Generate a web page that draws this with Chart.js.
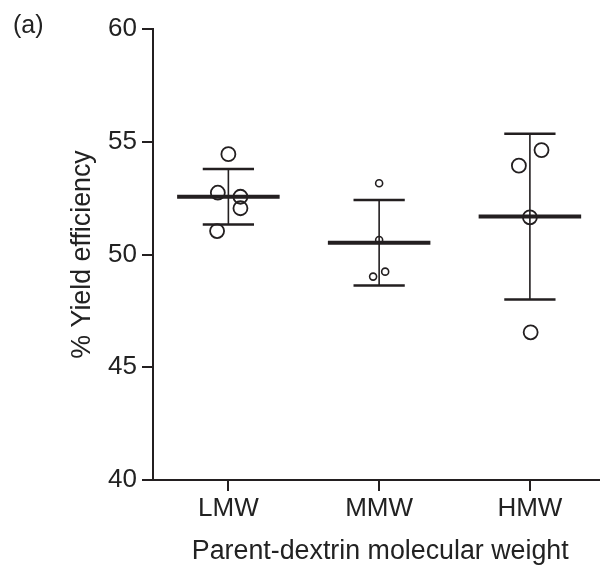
<!DOCTYPE html>
<html>
<head>
<meta charset="utf-8">
<script src="https://cdn.jsdelivr.net/npm/chart.js@4/dist/chart.umd.min.js"></script>
<style>
  html, body { margin: 0; padding: 0; background: #fff; }
  #wrap { position: relative; width: 600px; height: 567px; }
  #panel { position: absolute; left: 13px; top: 10px; font: 25px "Liberation Sans", Arial, sans-serif; color: #222; }
</style>
</head>
<body>
<div id="wrap">
  <canvas id="yieldChart" width="600" height="567"></canvas>
  <div id="panel">(a)</div>
</div>
<script>
// Categories and individual replicate values
const categories = ['LMW', 'MMW', 'HMW'];
const lmwValues = [54.45, 52.74, 52.56, 52.05, 51.04];
const mmwValues = [53.16, 50.64, 49.24, 49.02];
const hmwValues = [54.63, 53.94, 51.65, 46.55];
// horizontal scatter of the points (in category units)
const lmwJitter = [0, -0.07, 0.08, 0.08, -0.075];
const mmwJitter = [0, 0, 0.04, -0.04];
const hmwJitter = [0.077, -0.073, 0, 0.005];
// group mean and SD (error bars)
const means = [52.56, 50.52, 51.68];
const sds = [1.23, 1.90, 3.68];
const yTicks = [40, 45, 50, 55, 60];

const ink = '#231f20';
const font = '"Liberation Sans", Arial, sans-serif';
const meanHalf = 0.34;   // half width of mean line
const capHalf = 0.17;    // half width of error bar caps

function pointsFor(values, jitter, idx) {
    return values.map((v, i) => ({ x: idx + jitter[i], y: v }));
}

// build the line segments, null points break the line
const meanLine = [];
const stems = [];
const caps = [];
means.forEach((m, i) => {
    meanLine.push({ x: i - meanHalf, y: m }, { x: i + meanHalf, y: m }, { x: i, y: null });
    stems.push({ x: i, y: m - sds[i] }, { x: i, y: m + sds[i] }, { x: i, y: null });
    caps.push({ x: i - capHalf, y: m + sds[i] }, { x: i + capHalf, y: m + sds[i] }, { x: i, y: null });
    caps.push({ x: i - capHalf, y: m - sds[i] }, { x: i + capHalf, y: m - sds[i] }, { x: i, y: null });
});

function circles(data, r, w) {
    return {
        type: 'scatter',
        data: data,
        pointStyle: 'circle',
        pointRadius: r,
        pointBorderWidth: w,
        pointBorderColor: ink,
        pointBackgroundColor: 'rgba(0,0,0,0)',
        pointHoverRadius: r
    };
}

function segments(data, w) {
    return {
        type: 'scatter',
        data: data,
        showLine: true,
        spanGaps: false,
        borderColor: ink,
        borderWidth: w,
        pointRadius: 0,
        pointHoverRadius: 0
    };
}

const ctx = document.getElementById('yieldChart').getContext('2d');
new Chart(ctx, {
    type: 'scatter',
    data: {
        datasets: [
            segments(stems, 1.6),
            segments(caps, 2.5),
            segments(meanLine, 4),
            circles(pointsFor(lmwValues, lmwJitter, 0), 7, 1.8),
            circles(pointsFor(mmwValues, mmwJitter, 1), 3.5, 1.6),
            circles(pointsFor(hmwValues, hmwJitter, 2), 7, 1.8)
        ]
    },
    options: {
        responsive: false,
        animation: false,
        layout: { autoPadding: false, padding: { top: 29, right: 0, bottom: 0, left: 0 } },
        plugins: { legend: { display: false }, tooltip: { enabled: false } },
        scales: {
            x: {
                type: 'linear',
                min: -0.5,
                max: 2.465,
                afterBuildTicks: (scale) => { scale.ticks = categories.map((c, i) => ({ value: i })); },
                afterFit: (scale) => {
                    scale.height = 87;
                    scale.paddingRight = 0;
                    scale.paddingLeft = 0;
                },
                ticks: {
                    callback: (v) => categories[v] ?? '',
                    color: '#222',
                    font: { family: font, size: 26 },
                    padding: 2,
                    maxRotation: 0
                },
                grid: { drawOnChartArea: false, tickLength: 11, color: ink, lineWidth: 2 },
                border: { color: ink, width: 2 },
                title: {
                    display: true,
                    text: '\u00a0Parent-dextrin molecular weight',
                    color: '#222',
                    font: { family: font, size: 26.8 },
                    padding: { top: 0, bottom: -1 }
                }
            },
            y: {
                min: 40,
                max: 60,
                afterBuildTicks: (scale) => { scale.ticks = yTicks.map(v => ({ value: v })); },
                afterFit: (scale) => { scale.width = 153; },
                ticks: {
                    color: '#222',
                    font: { family: font, size: 26 },
                    padding: 5
                },
                grid: { drawOnChartArea: false, tickLength: 11, color: ink, lineWidth: 2 },
                border: { color: ink, width: 2 },
                title: {
                    display: true,
                    text: '% Yield efficiency',
                    color: '#222',
                    font: { family: font, size: 26.8 },
                    padding: { top: 67, bottom: 0 }
                }
            }
        }
    }
});
</script>
</body>
</html>
